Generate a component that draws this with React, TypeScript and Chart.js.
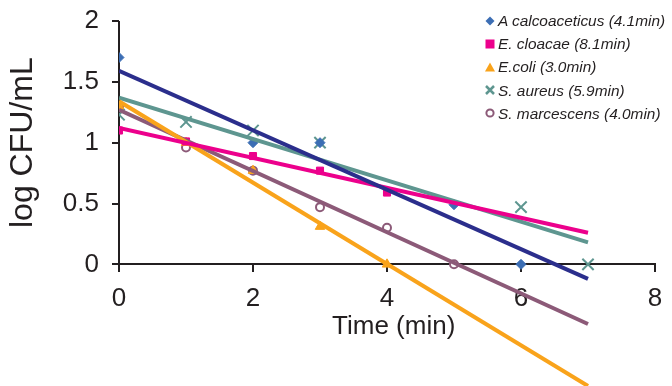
import { useEffect, useRef } from 'react';
import { Chart, registerables } from 'chart.js';
Chart.register(...registerables);

const timePoints = [0, 1, 2, 3, 4, 5, 6, 7];
const acalcoValues = [1.7, null, 1.0, 1.0, null, 0.49, 0, null];
const cloacaeValues = [1.1, 1.01, 0.89, 0.77, 0.59, null, null, null];
const ecoliValues = [1.3, 1.0, 0.77, 0.31, 0, null, null, null];
const aureusValues = [1.23, 1.17, 1.1, 1.0, null, null, 0.47, 0];
const marcescensValues = [1.3, 0.96, 0.77, 0.47, 0.3, 0, null, null];

const trendX = [0, 7];
const acalcoTrend = [1.59, -0.12];
const cloacaeTrend = [1.12, 0.26];
const ecoliTrend = [1.34, -1.0];
const aureusTrend = [1.37, 0.18];
const marcescensTrend = [1.27, -0.49];

const legendLabels = [
  'A calcoaceticus (4.1min)',
  'E. cloacae (8.1min)',
  'E.coli (3.0min)',
  'S. aureus (5.9min)',
  'S. marcescens (4.0min)',
];
const xTickValues = [0, 2, 4, 6, 8];
const yTickValues = [0, 0.5, 1, 1.5, 2];
const xTitle = 'Time (min)';
const yTitle = 'log CFU/mL';

const INK = '#231F20';
const FONT = '"Liberation Sans", Arial, sans-serif';

const toPts = (ys: (number | null)[]) =>
  timePoints.map((x, i) => ({ x, y: ys[i] })).filter((p) => p.y !== null);
const trendPts = (ys: number[]) => trendX.map((x, i) => ({ x, y: ys[i] }));

const axisPlugin = {
  id: 'axisLines',
  beforeDatasetsDraw(chart: any) {
    const { ctx, scales } = chart;
    const xs = scales.x;
    const ys = scales.y;
    const x0 = xs.getPixelForValue(0);
    const y0 = ys.getPixelForValue(0);
    const y2 = ys.getPixelForValue(2);
    ctx.save();
    ctx.strokeStyle = INK;
    ctx.lineWidth = 2;
    ctx.beginPath();
    ctx.moveTo(x0, y2);
    ctx.lineTo(x0, y0 + 1);
    ctx.stroke();
    ctx.restore();
  },
  afterDraw(chart: any) {
    const { ctx, scales } = chart;
    const xs = scales.x;
    const ys = scales.y;
    ctx.save();
    ctx.fillStyle = INK;
    ctx.textAlign = 'center';
    ctx.textBaseline = 'middle';
    ctx.font = `26px ${FONT}`;
    ctx.fillText(xTitle, xs.getPixelForValue(4.1), ys.getPixelForValue(0) + 62);
    ctx.font = `32px ${FONT}`;
    ctx.translate(23, ys.getPixelForValue(1));
    ctx.rotate(-Math.PI / 2);
    ctx.fillText(yTitle, 0, 0);
    ctx.restore();
  },
};

function Marker({ kind }: { kind: number }) {
  const s = 12;
  if (kind === 0)
    return (
      <svg width={s} height={s}>
        <polygon points="6,1.5 10.5,6 6,10.5 1.5,6" fill="#3C6EB4" />
      </svg>
    );
  if (kind === 1)
    return (
      <svg width={s} height={s}>
        <rect x="1.5" y="1.5" width="9" height="9" fill="#EC008C" />
      </svg>
    );
  if (kind === 2)
    return (
      <svg width={s} height={s}>
        <polygon points="6,1.5 11,10.5 1,10.5" fill="#F9A31B" />
      </svg>
    );
  if (kind === 3)
    return (
      <svg width={s} height={s}>
        <path d="M2,2 L10,10 M10,2 L2,10" stroke="#5E9690" strokeWidth="2.5" />
      </svg>
    );
  return (
    <svg width={s} height={s}>
      <circle cx="6" cy="6" r="3.6" fill="#fff" stroke="#8C5A78" strokeWidth="2" />
    </svg>
  );
}

export default function App() {
  const ref = useRef<HTMLCanvasElement>(null);
  useEffect(() => {
    document.body.style.margin = '0';
    document.body.style.overflow = 'hidden';
    if (!ref.current) return;
    const mk = (data: any[], color: string, style: string, radius: number, fill: string, bw: number) => ({
      type: 'scatter' as const,
      data,
      showLine: false,
      pointStyle: style,
      pointRadius: radius,
      pointBackgroundColor: fill,
      pointBorderColor: color,
      pointBorderWidth: bw,
      order: 2,
    });
    const tl = (data: any[], color: string) => ({
      type: 'line' as const,
      data,
      borderColor: color,
      borderWidth: 4,
      pointRadius: 0,
      fill: false,
      order: 1,
    });
    const chart = new Chart(ref.current, {
      type: 'scatter',
      data: {
        datasets: [
          mk(toPts(acalcoValues), '#3C6EB4', 'rectRot', 5, '#3C6EB4', 1),
          mk(toPts(cloacaeValues), '#EC008C', 'rect', 5, '#EC008C', 1),
          mk(toPts(ecoliValues), '#F9A31B', 'triangle', 5.5, '#F9A31B', 1),
          mk(toPts(aureusValues), '#5E9690', 'crossRot', 8, '#5E9690', 2),
          mk(toPts(marcescensValues), '#8C5A78', 'circle', 4, '#ffffff', 2),
          tl(trendPts(acalcoTrend), '#2B2E8C'),
          tl(trendPts(cloacaeTrend), '#EC008C'),
          tl(trendPts(ecoliTrend), '#F9A31B'),
          tl(trendPts(aureusTrend), '#5E9690'),
          tl(trendPts(marcescensTrend), '#8C5A78'),
        ] as any,
      },
      options: {
        animation: false,
        responsive: false,
        maintainAspectRatio: false,
        layout: { autoPadding: false, padding: { top: 21, right: 17, bottom: 0, left: 0 } },
        plugins: { legend: { display: false }, tooltip: { enabled: false } },
        scales: {
          x: {
            type: 'linear',
            position: { y: 0 } as any,
            min: 0,
            max: 8,
            afterBuildTicks: (s: any) => {
              s.ticks = xTickValues.map((v) => ({ value: v }));
            },
            afterFit: (s: any) => {
              s.height = 0;
              s.paddingLeft = 0;
              s.paddingRight = 0;
            },
            grid: { drawOnChartArea: false, drawTicks: true, tickLength: 7, color: INK, lineWidth: 2 },
            border: { display: true, color: INK, width: 2 },
            ticks: { color: INK, font: { family: FONT, size: 26 }, padding: 12, maxRotation: 0, callback: (v: any) => String(v) },
            title: { display: false },
          },
          y: {
            type: 'linear',
            min: -1,
            max: 2,
            afterBuildTicks: (s: any) => {
              s.ticks = yTickValues.map((v) => ({ value: v }));
            },
            afterFit: (s: any) => {
              s.width = 119;
              s.paddingTop = 0;
              s.paddingBottom = 0;
            },
            grid: { drawOnChartArea: false, drawTicks: true, tickLength: 7, color: INK, lineWidth: 2 },
            border: { display: false },
            ticks: { color: INK, font: { family: FONT, size: 26 }, padding: 13, callback: (v: any) => String(v) },
          },
        },
      },
      plugins: [axisPlugin],
    });
    return () => chart.destroy();
  }, []);
  return (
    <div style={{ position: 'relative', width: 672, height: 386 }}>
      <canvas ref={ref} width={672} height={386} style={{ display: 'block' }} />
      <div
        style={{
          position: 'absolute',
          left: 484,
          top: 9,
          font: `italic 15.4px ${FONT}`,
          color: INK,
          lineHeight: '23.2px',
          whiteSpace: 'nowrap',
        }}
      >
        {legendLabels.map((t, i) => (
          <div key={t} style={{ display: 'flex', alignItems: 'center', height: 23.2 }}>
            <span style={{ width: 14, display: 'inline-flex', alignItems: 'center' }}>
              <Marker kind={i} />
            </span>
            <span>{t}</span>
          </div>
        ))}
      </div>
    </div>
  );
}
